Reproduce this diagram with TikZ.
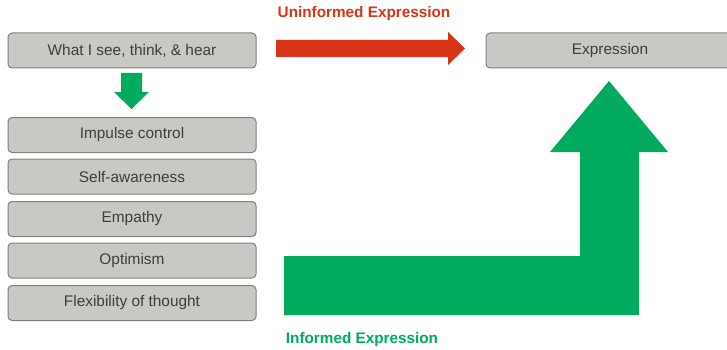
\documentclass[tikz,border=0pt]{standalone}
\usepackage{fontspec}
\setmainfont{Liberation Sans}
\definecolor{boxgray}{RGB}{200,200,196}
\definecolor{boxline}{RGB}{128,128,128}
\definecolor{boxtext}{RGB}{62,62,62}
\definecolor{arrowgreen}{RGB}{0,170,95}
\definecolor{arrowred}{RGB}{216,52,22}
\tikzset{
  skillbox/.style={draw=boxline, fill=boxgray, text=boxtext, rounded corners=4pt,
    line width=1pt, minimum width=248pt, minimum height=35pt, inner sep=0pt,
    font=\fontsize{15.4}{18}\selectfont},
  arrowlabel/.style={font=\bfseries\fontsize{15.3}{18}\selectfont}
}
\begin{document}
\begin{tikzpicture}[x=1pt,y=-1pt]
\useasboundingbox (0,0) rectangle (727,350);
\clip (0,0) rectangle (727,350);
%--- Left column: input and skills ---
\node[skillbox] (input) at (132,50.5) {What I see, think, \& hear};
\node[skillbox] (impulse) at (132,135) {Impulse control};
\node[skillbox] (selfaware) at (132,176.5) {Self-awareness};
\node[skillbox] (empathy) at (132,219) {Empathy};
\node[skillbox] (optimism) at (132,260.5) {Optimism};
\node[skillbox] (flexible) at (132,303) {Flexibility of thought};
%--- Right: the outcome ---
\node[skillbox] (expr) at (610,50.5) {Expression};
%--- Uninformed route: straight red arrow ---
\fill[arrowred] (276,40) -- (448,40) -- (448,32) -- (465,48.5) -- (448,65)
  -- (448,57) -- (276,57) -- cycle;
\node[arrowlabel, text=arrowred] (uninformed) at (364,14) {Uninformed Expression};
%--- Small green arrow down into the skills ---
\fill[arrowgreen] (121,73) -- (142,73) -- (142,92) -- (149,92) -- (131.5,109)
  -- (114,92) -- (121,92) -- cycle;
%--- Informed route: bent green arrow ---
\fill[arrowgreen] (284,256) -- (580,256) -- (580,152) -- (550,152) -- (609,81)
  -- (668,152) -- (639,152) -- (639,315) -- (284,315) -- cycle;
\node[arrowlabel, text=arrowgreen] (informed) at (362,340) {Informed Expression};
\end{tikzpicture}
\end{document}
